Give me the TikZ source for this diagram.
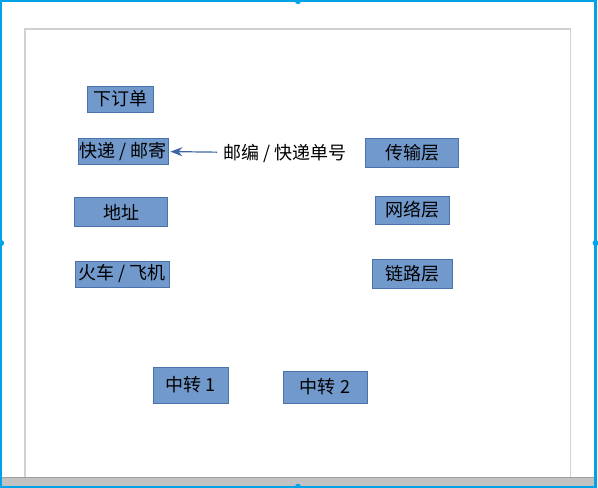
\documentclass[tikz,border=0pt]{standalone}
\usepackage{fontspec}
\newfontfamily\cjk{Noto Sans CJK SC}
\usepackage{xcolor}
\usepackage{tikz}
\usetikzlibrary{arrows.meta}
\definecolor{boxfill}{HTML}{7199CC}
\definecolor{boxline}{HTML}{4A72AC}
\definecolor{arrowblue}{HTML}{3D65A5}
\definecolor{selblue}{HTML}{00A2E8}

\begin{document}
\begin{tikzpicture}[x=1pt,y=-1pt,font=\cjk\fontsize{18}{21}\selectfont]
\tikzstyle{box} = [rectangle, draw=boxline, fill=boxfill, line width=0.8pt, inner sep=0pt, text=black]
\tikzstyle{arrow} = [arrowblue, line width=1.2pt, ->, >={Stealth[length=12pt,width=9pt]}]
\tikzstyle{handle} = [fill=selblue, draw=none]

\useasboundingbox (0,0) rectangle (598,488);

% frame
\draw[draw=selblue, line width=2.4pt] (1.2,1.2) rectangle (595.6,486.8);
\fill[fill=black!24] (2.4,477) rectangle (594.4,485.6);
\draw[black!38, line width=1pt] (2.4,477) -- (594.4,477);
\draw[black!18, line width=1.5pt] (25,477) -- (25,29) -- (570.5,29) -- (570.5,477);
\foreach \hx/\hy in {298/1.2, 1.2/243, 595.6/243, 298/486.8}
  \fill[handle] (\hx,\hy) circle (3pt);

% left column
\node (order) [box, minimum width=66pt, minimum height=26pt] at (120,99) {下订单};
\node (express) [box, minimum width=90pt, minimum height=26pt, below of=order, node distance=52pt, xshift=3pt] {快递 / 邮寄};
\node (addr) [box, minimum width=93pt, minimum height=29pt, below of=express, node distance=61pt, xshift=-2pt] {地址};
\node (train) [box, minimum width=94pt, minimum height=26pt, below of=addr, node distance=62pt, xshift=1pt] {火车 / 飞机};

% right column
\node (tl) [box, minimum width=93pt, minimum height=29pt] at (412,152.5) {传输层};
\node (nl) [box, minimum width=74pt, minimum height=28pt, below of=tl, node distance=57.5pt] {网络层};
\node (ll) [box, minimum width=80pt, minimum height=29pt, below of=nl, node distance=63.5pt] {链路层};

% relays
\node (relay1) [box, minimum width=75pt, minimum height=36pt] at (190.5,385) {中转 1};
\node (relay2) [box, minimum width=84pt, minimum height=32pt, right of=relay1, node distance=134.5pt, yshift=-2pt] {中转 2};

\node (code) [inner sep=6pt] at (285,153) {邮编 / 快递单号};
\draw [arrow, shorten >=2pt] (code) -- (express);

\end{tikzpicture}
\end{document}
